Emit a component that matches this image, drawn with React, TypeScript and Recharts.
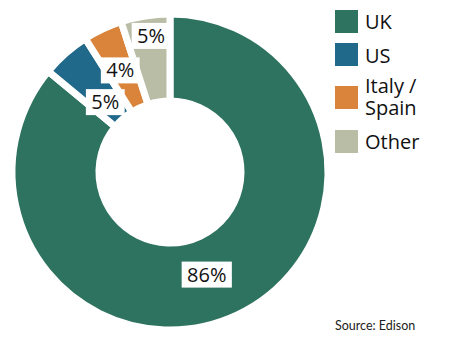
import React from 'react';
import { PieChart, Pie, Cell, Legend } from 'recharts';

const categories = ['UK', 'US', 'Italy / Spain', 'Other'];
const values = [86, 5, 4, 5];
const legendText = ['UK', 'US', 'Italy /\nSpain', 'Other'];

const COLORS = ['#2E735F', '#21698A', '#D9843A', '#B9BDA6'];
// label nudges (px) from the mid-ring position, per slice
const LABEL_NUDGE: [number, number][] = [[-12, -1], [11, 16], [-1, 2], [-1, -23]];

const data = categories.map((name, i) => ({ name, value: values[i] }));

const RAD = Math.PI / 180;
const FONT = '"Open Sans", "Noto Sans", sans-serif';

const renderLabel = (props: any) => {
  const { cx, cy, midAngle, innerRadius, outerRadius, index, value } = props;
  const r = (innerRadius + outerRadius) / 2;
  const x = cx + r * Math.cos(-midAngle * RAD) + LABEL_NUDGE[index][0];
  const y = cy + r * Math.sin(-midAngle * RAD) + LABEL_NUDGE[index][1];
  const text = `${value}%`;
  const w = (text.length - 1) * 11.4 + 16.4 + 11;
  const h = 26;
  return (
    <g key={`lbl-${index}`}>
      <rect x={x - w / 2} y={y - h / 2} width={w} height={h} fill="#ffffff" />
      <text x={x} y={y + 7} textAnchor="middle" fontFamily={FONT} fontSize={20} fill="#111111">
        {text}
      </text>
    </g>
  );
};

const centersY = [21, 54, 97, 141];
const textTops = [11.2, 45.2, 75.2, 131.2];

const renderLegend = (props: any) => {
  const payload = props.payload || [];
  return (
    <div style={{ position: 'relative', width: 145, height: 170 }}>
      {categories.map((name, i) => {
        const entry = payload.find((p: any) => p.value === name);
        const color = entry && entry.color ? entry.color : COLORS[i];
        return (
          <React.Fragment key={`leg-${i}`}>
            <div
              style={{
                position: 'absolute',
                left: 5,
                top: centersY[i] - 11.5,
                width: 23,
                height: 23,
                background: color,
              }}
            />
            <div
              style={{
                position: 'absolute',
                left: 35,
                top: textTops[i],
                fontFamily: FONT,
                fontSize: 20,
                lineHeight: '22px',
                color: '#111111',
                whiteSpace: 'pre-line',
              }}
            >
              {legendText[i]}
            </div>
          </React.Fragment>
        );
      })}
    </div>
  );
};

export default function App() {
  return (
    <div style={{ position: 'absolute', left: 0, top: 0, width: 475, height: 338, background: '#fff' }}>
      <PieChart width={475} height={338} margin={{ top: 0, right: 0, bottom: 0, left: 0 }}>
        <Pie
          data={data}
          dataKey="value"
          nameKey="name"
          cx={170}
          cy={172}
          innerRadius={71}
          outerRadius={158}
          startAngle={90}
          endAngle={-270}
          stroke="#ffffff"
          strokeWidth={7}
          label={renderLabel}
          labelLine={false}
          isAnimationActive={false}
        >
          {data.map((d, i) => (
            <Cell key={d.name} fill={COLORS[i]} />
          ))}
        </Pie>
        <Legend
          layout="vertical"
          align="right"
          verticalAlign="top"
          content={renderLegend}
          wrapperStyle={{ left: 330, top: 0, width: 145, height: 170 }}
        />
      </PieChart>
      <div
        style={{
          position: 'absolute',
          left: 335,
          top: 318,
          fontFamily: 'Lato, "Open Sans", sans-serif',
          fontSize: 12.5,
          color: '#222',
          whiteSpace: 'nowrap',
          lineHeight: '16px',
        }}
      >
        Source: Edison
      </div>
    </div>
  );
}
